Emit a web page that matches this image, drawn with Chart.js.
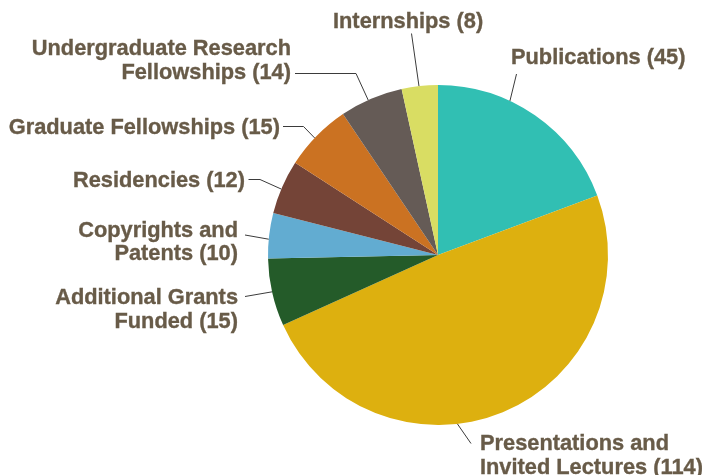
<!DOCTYPE html>
<html lang="en">
<head>
<meta charset="UTF-8">
<title>Research Outputs</title>
<script src="https://cdn.jsdelivr.net/npm/chart.js"></script>
<style>
    html, body { margin: 0; padding: 0; background: #fff; }
    .chart-box { position: relative; width: 702px; height: 475px; }
</style>
</head>
<body>
<div class="chart-box">
    <canvas id="graficoPizza"></canvas>
</div>

<script>
    // dados do grafico
    const categorias = [
        'Publications',
        'Presentations and Invited Lectures',
        'Additional Grants Funded',
        'Copyrights and Patents',
        'Residencies',
        'Graduate Fellowships',
        'Undergraduate Research Fellowships',
        'Internships'
    ];
    const valores = [45, 114, 15, 10, 12, 15, 14, 8];
    const cores = ['#31bfb3', '#ddb00f', '#245b29', '#62acd1', '#744437', '#cb7222', '#655b56', '#d9dd63'];

    // linhas de texto de cada rotulo (o numero entra no fim)
    const rotuloLinhas = [
        ['Publications'],
        ['Presentations and', 'Invited Lectures'],
        ['Additional Grants', 'Funded'],
        ['Copyrights and', 'Patents'],
        ['Residencies'],
        ['Graduate Fellowships'],
        ['Undergraduate Research', 'Fellowships'],
        ['Internships']
    ];

    // posicao dos rotulos e das linhas guia (t = fracao ao longo da fatia)
    const layoutRotulos = [
        { t: 0.36, guia: [[516.5, 74]], x: 511, y: 63.5, align: 'left' },
        { t: 0.59, guia: [[471, 443.5]], x: 480, y: 450, align: 'left' },
        { t: 0.51, guia: [[245, 296.5]], x: 238, y: 304, align: 'right' },
        { t: 0.42, guia: [[245, 235]], x: 238, y: 236.5, align: 'right' },
        { t: 0.46, guia: [[260, 179.5], [248.5, 179.5]], x: 245, y: 186.5, align: 'right' },
        { t: 0.46, guia: [[303.5, 126.5], [283, 126.5]], x: 280, y: 134, align: 'right' },
        { t: 0.45, guia: [[356, 73.5], [295, 73.5]], x: 291, y: 55, align: 'right' },
        { t: 0.48, guia: [[411.5, 33.5]], x: 333, y: 28, align: 'left' }
    ];

    const rotulosPlugin = {
        id: 'rotulos',
        afterDatasetsDraw(chart) {
            const ctx = chart.ctx;
            const arcos = chart.getDatasetMeta(0).data;
            ctx.save();
            arcos.forEach((arco, i) => {
                const lay = layoutRotulos[i];
                const a = arco.startAngle + (arco.endAngle - arco.startAngle) * lay.t;
                const px = arco.x + arco.outerRadius * Math.cos(a);
                const py = arco.y + arco.outerRadius * Math.sin(a);

                // linha guia
                ctx.beginPath();
                ctx.moveTo(px, py);
                lay.guia.forEach(p => ctx.lineTo(p[0], p[1]));
                ctx.strokeStyle = '#3b3b3b';
                ctx.lineWidth = 1;
                ctx.stroke();

                // texto (contorno fino para ficar mais pesado)
                ctx.font = 'bold 21.8px "Liberation Sans", Arial, sans-serif';
                ctx.fillStyle = '#685b48';
                ctx.strokeStyle = '#685b48';
                ctx.lineWidth = 0.35;
                ctx.textAlign = lay.align;
                ctx.textBaseline = 'alphabetic';
                const linhas = rotuloLinhas[i].slice();
                linhas[linhas.length - 1] += ' (' + valores[i] + ')';
                linhas.forEach((l, k) => {
                    ctx.fillText(l, lay.x, lay.y + k * 23.8);
                    ctx.strokeText(l, lay.x, lay.y + k * 23.8);
                });
            });
            ctx.restore();
        }
    };

    new Chart(document.getElementById('graficoPizza'), {
        type: 'pie',
        data: {
            labels: categorias,
            datasets: [{
                data: valores,
                backgroundColor: cores,
                borderWidth: 0,
                hoverOffset: 0
            }]
        },
        options: {
            responsive: true,
            maintainAspectRatio: false,
            animation: false,
            layout: {
                padding: { left: 268, right: 94, top: 85, bottom: 50 }
            },
            plugins: {
                legend: { display: false },
                tooltip: { enabled: false }
            }
        },
        plugins: [rotulosPlugin]
    });
</script>
</body>
</html>
